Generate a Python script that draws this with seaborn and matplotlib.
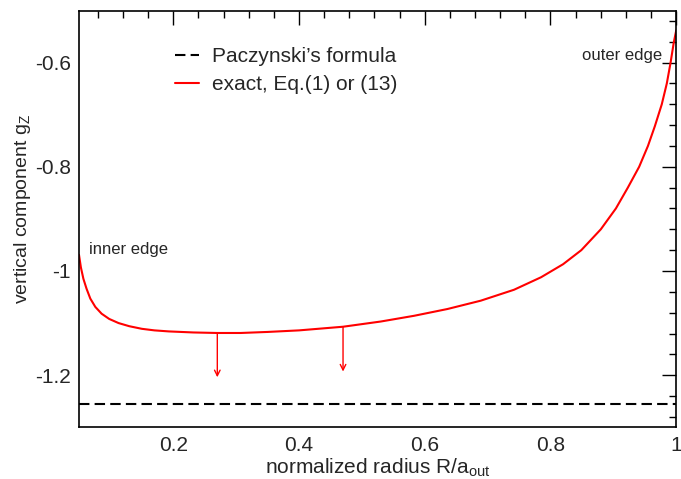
import matplotlib
matplotlib.use("Agg")
import matplotlib.pyplot as plt
import seaborn as sns
import pandas as pd
from matplotlib.ticker import MultipleLocator, FuncFormatter

sns.set_theme(style="white")
plt.rcParams['font.family'] = ['Liberation Sans', 'DejaVu Sans']
plt.rcParams['axes.unicode_minus'] = False
plt.rcParams['mathtext.fontset'] = 'custom'
plt.rcParams['mathtext.rm'] = 'Liberation Sans'

# exact curve
radius = [0.050, 0.053, 0.057, 0.062, 0.068, 0.076, 0.086, 0.098, 0.113, 0.130, 0.150,
          0.170, 0.193, 0.232, 0.270, 0.307, 0.350, 0.400, 0.470, 0.530, 0.583,
          0.636, 0.689, 0.742, 0.785, 0.820, 0.849, 0.880, 0.904, 0.923, 0.941,
          0.955, 0.966, 0.977, 0.985, 0.991, 0.996, 1.000]
g_exact = [-0.969, -0.993, -1.015, -1.034, -1.053, -1.069, -1.082, -1.092, -1.100, -1.106, -1.111,
           -1.114, -1.116, -1.118, -1.119, -1.119, -1.117, -1.114, -1.107, -1.097, -1.086,
           -1.073, -1.057, -1.036, -1.012, -0.987, -0.960, -0.920, -0.880, -0.840, -0.800,
           -0.760, -0.722, -0.680, -0.640, -0.600, -0.562, -0.538]

# Paczynski's formula (constant)
pac_x = [0.05, 1.0]
pac_y = [-1.256, -1.256]

# arrows
arrow_x = [0.27, 0.47]
arrow_from = [-1.119, -1.107]
arrow_to = [-1.204, -1.193]

df_exact = pd.DataFrame({"R": radius, "g": g_exact})
df_pac = pd.DataFrame({"R": pac_x, "g": pac_y})

fig = plt.figure(figsize=(6.81, 4.79), dpi=100)
ax = fig.add_axes([0.116, 0.108, 0.877, 0.870])

sns.lineplot(data=df_pac, x="R", y="g", ax=ax, color="black", lw=1.5,
             linestyle=(0, (5, 2.5)), label="Paczynski\u2019s formula")
sns.lineplot(data=df_exact, x="R", y="g", ax=ax, color="red", lw=1.5,
             label="exact, Eq.(1) or (13)")

for xa, y0, y1 in zip(arrow_x, arrow_from, arrow_to):
    ax.annotate("", xy=(xa, y1), xytext=(xa, y0),
                arrowprops=dict(arrowstyle="->", color="red", lw=1.0,
                                shrinkA=0, shrinkB=0, mutation_scale=10))

ax.text(0.066, -0.958, "inner edge", fontsize=12, ha="left", va="center")
ax.text(0.977, -0.586, "outer edge", fontsize=12, ha="right", va="center")

ax.set_xlim(0.05, 1.0)
ax.set_ylim(-1.3, -0.5)
ax.xaxis.set_major_locator(MultipleLocator(0.2))
ax.xaxis.set_minor_locator(MultipleLocator(0.04))
ax.yaxis.set_major_locator(MultipleLocator(0.2))
ax.yaxis.set_minor_locator(MultipleLocator(0.04))
fmt = FuncFormatter(lambda v, p: "%g" % round(v, 3))
ax.xaxis.set_major_formatter(fmt)
ax.yaxis.set_major_formatter(fmt)
ax.tick_params(which="both", direction="in", top=True, right=True, color="black",
               labelsize=15, width=1.0)
ax.tick_params(which="major", length=10, pad=6)
ax.tick_params(which="minor", length=5)
for s in ax.spines.values():
    s.set_color("black")
    s.set_linewidth(1.2)

ax.set_xlabel(r"normalized radius R/a$_\mathrm{out}$", fontsize=15, labelpad=1)
ax.set_ylabel(r"vertical component g$_\mathrm{Z}$", fontsize=14)
ax.yaxis.set_label_coords(-0.077, 0.524)

leg = ax.legend(loc="upper left", bbox_to_anchor=(0.161, 0.913), frameon=False,
                fontsize=15, handlelength=1.15, handletextpad=0.62, labelspacing=0.45,
                borderpad=0, borderaxespad=0)

fig.savefig("out.png", dpi=100)
